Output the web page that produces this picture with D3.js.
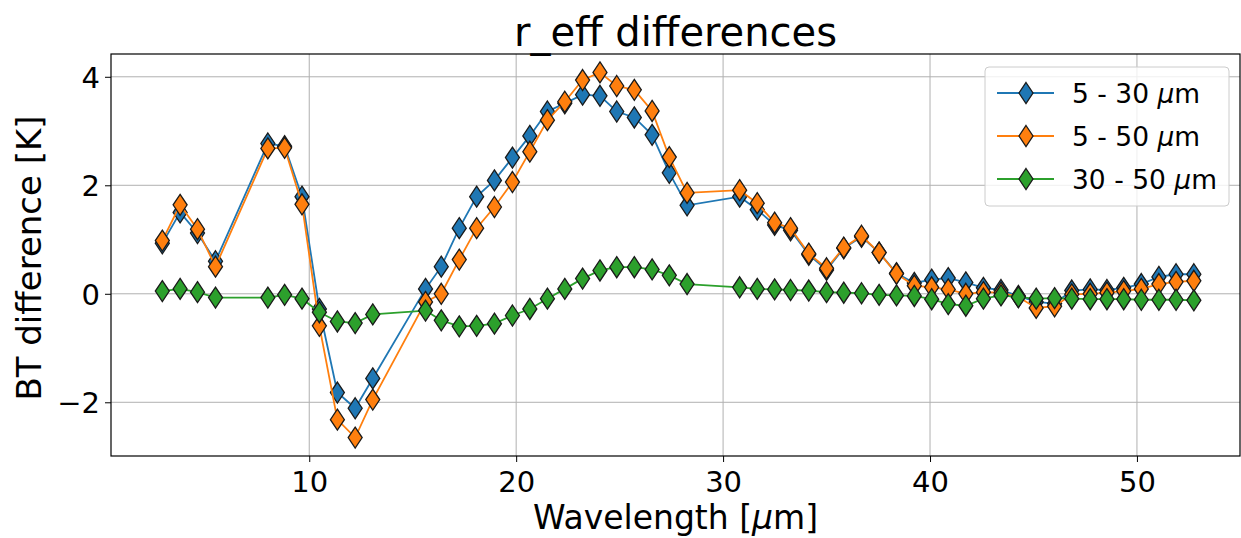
<!DOCTYPE html>
<html>
<head>
<meta charset="utf-8">
<script src="https://cdn.jsdelivr.net/npm/d3@7"></script>
<style>
  html, body { margin: 0; padding: 0; background: #fff; }
  svg { display: block; font-family: "DejaVu Sans", sans-serif; }
</style>
</head>
<body>
<svg id="chart" width="1241" height="538"></svg>
<script>
// Channel wavelengths (µm)
const wavelengths = [2.90, 3.76, 4.60, 5.47, 8.00, 8.81, 9.65, 10.49, 11.36, 12.22, 13.07,
  15.62, 16.38, 17.25, 18.09, 18.95, 19.82, 20.66, 21.51, 22.35, 23.21, 24.05, 24.86, 25.71,
  26.57, 27.40, 28.26, 30.80, 31.65, 32.49, 33.26, 34.14, 35.00, 35.83, 36.69, 37.54, 38.38,
  39.24, 40.08, 40.88, 41.73, 42.58, 43.43, 44.27, 45.13, 46.02, 46.85, 47.74, 48.55, 49.36,
  50.21, 51.06, 51.89, 52.75];

// BT differences (K) between effective-radius runs
const diff5to30 = [0.93, 1.50, 1.12, 0.60, 2.77, 2.72, 1.79, -0.28, -1.82, -2.11, -1.56,
  0.09, 0.50, 1.21, 1.79, 2.09, 2.51, 2.91, 3.36, 3.51, 3.67, 3.65, 3.36, 3.25,
  2.93, 2.23, 1.63, 1.79, 1.55, 1.27, 1.17, 0.72, 0.44, 0.84, 1.05, 0.76, 0.38,
  0.20, 0.26, 0.29, 0.21, 0.11, 0.07, -0.04, -0.15, -0.18, 0.06, 0.08, 0.07, 0.11,
  0.18, 0.31, 0.36, 0.36];
const diff5to50 = [0.98, 1.64, 1.19, 0.50, 2.68, 2.69, 1.65, -0.59, -2.32, -2.65, -1.95,
  -0.15, 0.00, 0.63, 1.21, 1.60, 2.06, 2.62, 3.20, 3.54, 3.94, 4.08, 3.83, 3.76,
  3.37, 2.52, 1.86, 1.91, 1.67, 1.31, 1.21, 0.74, 0.47, 0.85, 1.07, 0.76, 0.37,
  0.15, 0.12, 0.08, 0.00, 0.03, 0.02, -0.06, -0.26, -0.23, -0.01, 0.00, 0.02, 0.05,
  0.09, 0.18, 0.22, 0.24];
const diff30to50 = [0.05, 0.09, 0.03, -0.07, -0.07, -0.02, -0.09, -0.34, -0.51, -0.54, -0.38,
  -0.31, -0.49, -0.60, -0.59, -0.55, -0.40, -0.28, -0.09, 0.09, 0.28, 0.43, 0.49, 0.49,
  0.45, 0.34, 0.18, 0.12, 0.09, 0.08, 0.07, 0.06, 0.03, 0.02, 0.01, -0.02, -0.03,
  -0.04, -0.10, -0.19, -0.22, -0.09, -0.03, -0.06, -0.09, -0.08, -0.09, -0.10, -0.10, -0.10,
  -0.11, -0.11, -0.11, -0.12];

const seriesNames = ["5 - 30 ", "5 - 50 ", "30 - 50 "];
const seriesColors = ["#1f77b4", "#ff7f0e", "#2ca02c"];
const xTicks = [10, 20, 30, 40, 50];
const yTicks = [-2, 0, 2, 4];

const series = [diff5to30, diff5to50, diff30to50].map((vals, i) => ({
  name: seriesNames[i], color: seriesColors[i],
  points: wavelengths.map((w, j) => [w, vals[j]])
}));

const svg = d3.select("#chart");
const m = { left: 111, right: 1240, top: 54, bottom: 456 };

const x = d3.scaleLinear().domain([0.42, 54.98]).range([m.left, m.right]);
const y = d3.scaleLinear().domain([-2.99, 4.42]).range([m.bottom, m.top]);

// grid
const grid = svg.append("g");
grid.selectAll(".gx").data(xTicks).join("line")
  .attr("x1", d => x(d)).attr("x2", d => x(d))
  .attr("y1", m.top).attr("y2", m.bottom)
  .attr("stroke", "#b0b0b0").attr("stroke-width", 1);
grid.selectAll(".gy").data(yTicks).join("line")
  .attr("x1", m.left).attr("x2", m.right)
  .attr("y1", d => y(d)).attr("y2", d => y(d))
  .attr("stroke", "#b0b0b0").attr("stroke-width", 1);

// axes
const xAxis = d3.axisBottom(x).tickValues(xTicks).tickSize(6).tickPadding(6).tickFormat(d3.format("d"));
const yAxis = d3.axisLeft(y).tickValues(yTicks).tickSize(6).tickPadding(5)
  .tickFormat(d => d < 0 ? "\u2212" + Math.abs(d) : String(d));

const gx = svg.append("g").attr("transform", `translate(0,${m.bottom})`).call(xAxis);
const gy = svg.append("g").attr("transform", `translate(${m.left},0)`).call(yAxis);
[gx, gy].forEach(g => {
  g.select(".domain").remove();
  g.selectAll(".tick line").attr("stroke", "#000").attr("stroke-width", 1);
  g.selectAll(".tick text").attr("fill", "#000").style("font-size", "29px")
    .style("font-family", "'DejaVu Sans', sans-serif");
});
gx.selectAll(".tick text").attr("dy", "0.82em");
gy.selectAll(".tick text").attr("dy", "0.36em");

// frame
svg.append("rect")
  .attr("x", m.left).attr("y", m.top)
  .attr("width", m.right - m.left).attr("height", m.bottom - m.top)
  .attr("fill", "none").attr("stroke", "#000").attr("stroke-width", 1.2);

// lines and diamond markers
const line = d3.line().x(d => x(d[0])).y(d => y(d[1]));
const diamond = "M0,-10.5 L7,0 L0,10.5 L-7,0 Z";

const plot = svg.append("g");
series.forEach(s => {
  const g = plot.append("g");
  g.append("path").datum(s.points).attr("d", line)
    .attr("fill", "none").attr("stroke", s.color).attr("stroke-width", 1.8);
  g.selectAll("path.mk").data(s.points).join("path").attr("class", "mk")
    .attr("d", diamond)
    .attr("transform", d => `translate(${x(d[0])},${y(d[1])})`)
    .attr("fill", s.color).attr("stroke", "#1a1a1a").attr("stroke-width", 1.3);
});

// title and axis labels
svg.append("text").attr("x", (m.left + m.right) / 2).attr("y", 46)
  .attr("text-anchor", "middle").style("font-size", "40px").text("r_eff differences");

const xl = svg.append("text").attr("x", (m.left + m.right) / 2).attr("y", 529)
  .attr("text-anchor", "middle").style("font-size", "33px");
xl.append("tspan").text("Wavelength [");
xl.append("tspan").style("font-style", "italic").text("\u03bc");
xl.append("tspan").text("m]");

svg.append("text").attr("transform", "translate(41,258) rotate(-90)")
  .attr("text-anchor", "middle").style("font-size", "34px").text("BT difference [K]");

// legend
const lg = svg.append("g").attr("transform", "translate(985,67)");
lg.append("rect").attr("width", 244).attr("height", 139).attr("rx", 4)
  .attr("fill", "#fff").attr("fill-opacity", 0.8)
  .attr("stroke", "#cccccc").attr("stroke-width", 1);
series.forEach((s, i) => {
  const row = lg.append("g").attr("transform", `translate(0,${26 + i * 43})`);
  row.append("line").attr("x1", 12).attr("x2", 69).attr("y1", 0).attr("y2", 0)
    .attr("stroke", s.color).attr("stroke-width", 1.8);
  row.append("path").attr("d", diamond).attr("transform", "translate(41,0)")
    .attr("fill", s.color).attr("stroke", "#1a1a1a").attr("stroke-width", 1.3);
  const t = row.append("text").attr("x", 87).attr("y", 0).attr("dy", "0.36em")
    .style("font-size", "26.5px");
  t.append("tspan").text(s.name);
  t.append("tspan").style("font-style", "italic").text("\u03bc");
  t.append("tspan").text("m");
});
</script>
</body>
</html>
